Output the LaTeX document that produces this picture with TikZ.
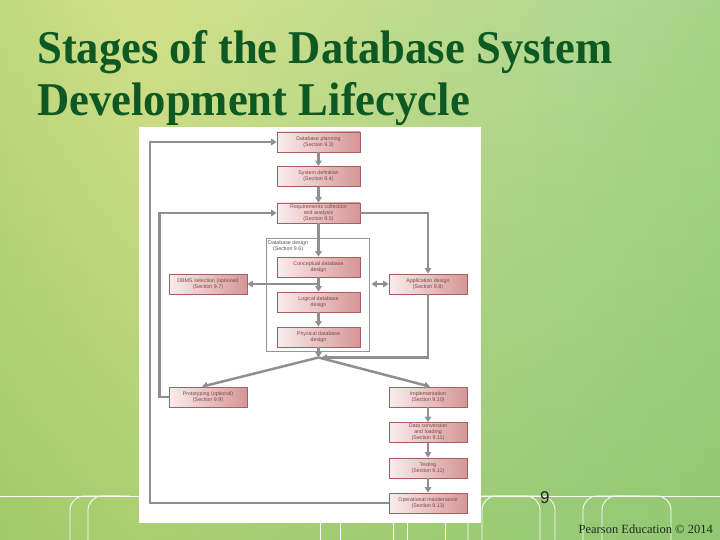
\documentclass[tikz,border=0pt]{standalone}
\usepackage{fontspec}
\setmainfont{Liberation Serif}
\newfontfamily\titlefont{Liberation Serif}[FakeStretch=0.95]
\newfontfamily\boxfont{Liberation Sans}
\usetikzlibrary{arrows.meta,fadings}

\definecolor{titlegreen}{RGB}{14,88,36}
\definecolor{boxL}{RGB}{250,236,236}
\definecolor{boxR}{RGB}{214,150,150}
\definecolor{boxborder}{RGB}{170,95,95}
\definecolor{boxtext}{RGB}{125,70,70}
\definecolor{conngray}{RGB}{143,143,143}
\definecolor{framegray}{RGB}{150,150,150}
\definecolor{labelgray}{RGB}{85,85,95}
\definecolor{deepgreen}{RGB}{120,185,85}

\pgfdeclarehorizontalshading{bgshade}{100bp}{rgb(0bp)=(0.58,0.78,0.40); rgb(35bp)=(0.83,0.88,0.54); rgb(65bp)=(0.70,0.85,0.57); rgb(100bp)=(0.55,0.79,0.45)}

\begin{document}
\begin{tikzpicture}[x=1pt,y=-1pt,
  stage/.style={draw=boxborder, line width=0.8pt, left color=boxL, right color=boxR,
    minimum height=20pt, inner sep=0pt, align=center,
    font=\boxfont\fontsize{5.3}{6}\selectfont, text=boxtext},
  midstage/.style={stage, minimum width=83pt},
  sidestage/.style={stage, minimum width=78pt},
  flow/.style={draw=conngray, line width=2.5pt, -{Triangle[length=5.5pt,width=6.5pt]}},
  deco/.style={draw=white, line width=0.8pt, rounded corners=14pt}]

\useasboundingbox (0,0) rectangle (720,540);
\shade[shading=bgshade] (0,0) rectangle (720,540);
\fill[deepgreen, path fading=north, opacity=0.45] (0,0) rectangle (720,540);

% decorative lines
\draw[deco] (0,496) -- (720,496);
\draw[deco] (70,540) -- (70,496) -- (120,496);
\draw[deco] (88,540) -- (88,496) -- (130,496);
\foreach \xx in {320,340,393,407,445} {\draw[draw=white, line width=0.8pt] (\xx,500) -- (\xx,540);}
\draw[deco] (468,540) -- (468,496) -- (555,496) -- (555,540);
\draw[deco] (482,540) -- (482,496) -- (540,496) -- (540,540);
\draw[deco] (583,540) -- (583,496) -- (640,496);
\draw[deco] (602,540) -- (602,496) -- (671,496) -- (671,540);

% panel
\fill[white] (138.5,127) rectangle (480.5,523);

% title
\node[anchor=base west, inner sep=0, font=\titlefont\bfseries\fontsize{47}{52}\selectfont, text=titlegreen] (t1) at (37,64) {Stages of the Database System};
\node[anchor=base west, inner sep=0, font=\titlefont\bfseries\fontsize{47}{52}\selectfont, text=titlegreen] (t2) at (37,116) {Development Lifecycle};

% frame
\node[draw=framegray, line width=0.8pt, minimum width=103pt, minimum height=113pt, inner sep=0pt] (frame) at (317.5,294.5) {};
\node[anchor=north west, inner sep=0pt, align=center, font=\boxfont\fontsize{5.3}{6}\selectfont, text=labelgray] (framelabel) at (268,240) {Database design\\(Section 9.6)};

% stages
\node[midstage] (plan) at (318.5,142) {Database planning\\(Section 9.3)};
\node[midstage] (sysdef) at (318.5,176.5) {System definition\\(Section 9.4)};
\node[midstage] (req) at (318.5,213) {Requirements collection\\and analysis\\(Section 9.5)};
\node[midstage] (concept) at (318.5,267) {Conceptual database\\design};
\node[midstage] (logical) at (318.5,302) {Logical database\\design};
\node[midstage] (physical) at (318.5,337) {Physical database\\design};
\node[sidestage] (dbms) at (208,284) {DBMS selection (optional)\\(Section 9.7)};
\node[sidestage] (app) at (428,284) {Application design\\(Section 9.8)};
\node[sidestage] (proto) at (208,397) {Prototyping (optional)\\(Section 9.9)};
\node[sidestage] (impl) at (428,397) {Implementation\\(Section 9.10)};
\node[sidestage] (conv) at (428,432.5) {Data conversion\\and loading\\(Section 9.11)};
\node[sidestage] (test) at (428,468) {Testing\\(Section 9.12)};
\node[sidestage] (oper) at (428,503) {Operational maintenance\\(Section 9.13)};

\coordinate (junc) at (318.5,357.5);
\coordinate (dbmsjoin) at (318.5,284);
\coordinate (outer) at (150,503);

% connectors
\draw[flow] (plan) -- (sysdef);
\draw[flow] (sysdef) -- (req);
\draw[flow] (req) -- (concept);
\draw[flow] (concept) -- (logical);
\draw[flow] (logical) -- (physical);
\draw[flow] (dbmsjoin) -- (dbms.east);
\draw[flow, {Triangle[length=5.5pt,width=6.5pt]}-{Triangle[length=5.5pt,width=6.5pt]}] ([xshift=2pt]frame.east |- app.west) -- (app.west);
\draw[flow] (req.east) -| (app.north);
\draw[flow] (app.south) |- ([xshift=3pt]junc);
\draw[flow] (physical.south) -- (junc);
\draw[flow] (junc) -- ([xshift=-6pt]proto.north);
\draw[flow] (junc) -- ([xshift=2pt]impl.north);
\draw[flow] (impl) -- (conv);
\draw[flow] (conv) -- (test);
\draw[flow] (test) -- (oper);
\draw[flow] (proto.west) -- ++(-9,0) |- (req.west);
\draw[flow] (oper.west) -- (outer) |- (plan.west);

% page number and footer
\node[anchor=base west, inner sep=0, font=\boxfont\fontsize{17}{20}\selectfont, text=black!85] (pnum) at (540,503) {9};
\node[anchor=base east, inner sep=0, font=\fontsize{12.5}{14}\selectfont, text=black!85] (foot) at (713,533) {Pearson Education © 2014};
\end{tikzpicture}
\end{document}
